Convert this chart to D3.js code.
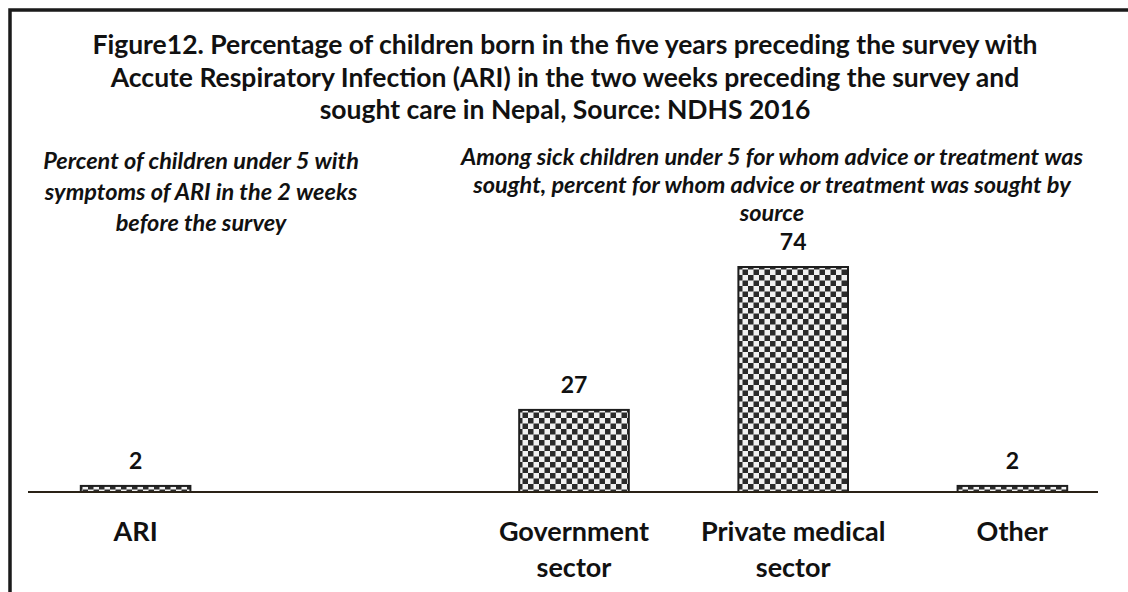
<!DOCTYPE html>
<html>
<head>
<meta charset="utf-8">
<script src="https://cdn.jsdelivr.net/npm/d3@7"></script>
<style>
  html, body { margin: 0; padding: 0; background: #fff; }
  svg { display: block; }
  text { font-family: Lato, "Open Sans", sans-serif; fill: #111; }
</style>
</head>
<body>
<svg id="chart" width="1128" height="592"></svg>
<script>
// Chart data
const categories = ["ARI", "Government sector", "Private medical sector", "Other"];
const values = [2, 27, 74, 2];
// Slot layout: an empty slot separates the ARI bar from the source bars
const slots = ["ARI", "gap", "Government sector", "Private medical sector", "Other"];
const categoryLines = [["ARI"], ["Government", "sector"], ["Private medical", "sector"], ["Other"]];

const titleLines = [
  "Figure12. Percentage of children born in the five years preceding the survey with",
  "Accute Respiratory Infection (ARI) in the two weeks preceding the survey and",
  "sought care in Nepal, Source: NDHS 2016"
];
const leftNote = ["Percent of children under 5 with", "symptoms of ARI in the 2 weeks", "before the survey"];
const rightNote = [
  "Among sick children under 5 for whom advice or treatment was",
  "sought, percent for whom advice or treatment was sought by",
  "source"
];

const W = 1128, H = 592;
const svg = d3.select("#chart");

// Checkerboard fill for the bars
const defs = svg.append("defs");
const cell = 5.5;
const pat = defs.append("pattern")
  .attr("id", "checker")
  .attr("patternUnits", "userSpaceOnUse")
  .attr("width", cell * 2).attr("height", cell * 2);
pat.append("rect").attr("width", cell * 2).attr("height", cell * 2).attr("fill", "#f2f2f2");
pat.append("rect").attr("width", cell).attr("height", cell).attr("fill", "#2b2b2b");
pat.append("rect").attr("x", cell).attr("y", cell).attr("width", cell).attr("height", cell).attr("fill", "#2b2b2b");

// Frame
svg.append("path")
  .attr("d", `M10,${H + 5} L10,10 L${W + 5},10`)
  .attr("fill", "none").attr("stroke", "#1a1a1a").attr("stroke-width", 3.5);

// Scales
const baseY = 492;
const x = d3.scaleBand().domain(slots).range([26, 1122]).paddingInner(0.5).paddingOuter(0.25);
const y = d3.scaleLinear().domain([0, 74]).range([baseY, 267]);

// Title
const title = svg.append("text")
  .attr("text-anchor", "middle")
  .style("font-weight", 700).style("font-size", "26.5px");
titleLines.forEach((t, i) => {
  title.append("tspan").attr("x", 565).attr("y", 54 + i * 32.5).text(t);
});

// Annotations
function note(lines, cx, y0, dy) {
  const t = svg.append("text")
    .attr("text-anchor", "middle")
    .style("font-weight", 700).style("font-style", "italic").style("font-size", "23.5px");
  lines.forEach((s, i) => t.append("tspan").attr("x", cx).attr("y", y0 + i * dy).text(s));
}
note(leftNote, 201, 169, 31);
note(rightNote, 772, 165, 28);

// Bars
const barData = categories.map((c, i) => ({ c, v: values[i], lines: categoryLines[i] }));
svg.selectAll("rect.bar")
  .data(barData)
  .join("rect")
  .attr("class", "bar")
  .attr("x", d => x(d.c))
  .attr("y", d => y(d.v))
  .attr("width", x.bandwidth())
  .attr("height", d => baseY - y(d.v))
  .attr("fill", "url(#checker)")
  .attr("stroke", "#1e1e1e")
  .attr("stroke-width", 2);

// Baseline
svg.append("line")
  .attr("x1", 28).attr("x2", 1098)
  .attr("y1", baseY).attr("y2", baseY)
  .attr("stroke", "#2a2216").attr("stroke-width", 2);

// Value labels
svg.selectAll("text.val")
  .data(barData)
  .join("text")
  .attr("class", "val")
  .attr("text-anchor", "middle")
  .attr("x", d => x(d.c) + x.bandwidth() / 2)
  .attr("y", d => y(d.v) - 17)
  .style("font-weight", 700).style("font-size", "23px")
  .text(d => d.v);

// Category labels
barData.forEach(d => {
  const t = svg.append("text")
    .attr("text-anchor", "middle")
    .style("font-weight", 700).style("font-size", "27px");
  d.lines.forEach((s, i) => t.append("tspan")
    .attr("x", x(d.c) + x.bandwidth() / 2)
    .attr("y", 541 + i * 36).text(s));
});
</script>
</body>
</html>
